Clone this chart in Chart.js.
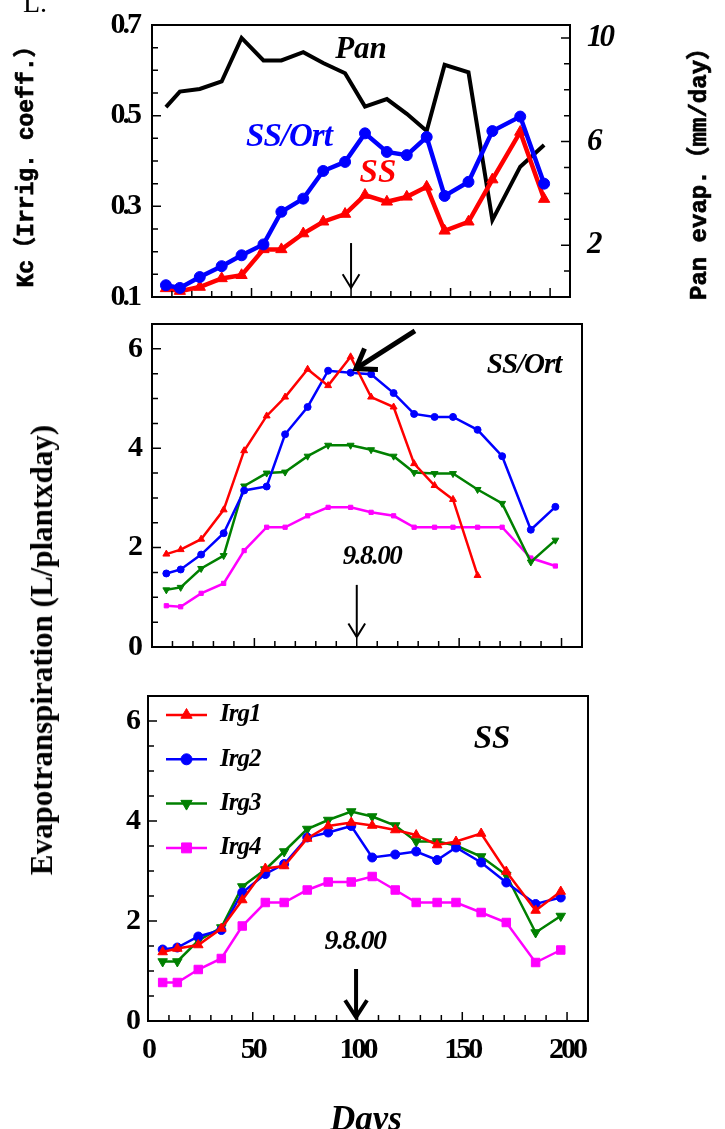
<!DOCTYPE html>
<html>
<head>
<meta charset="utf-8">
<script src="https://cdn.jsdelivr.net/npm/chart.js@4.4.1/dist/chart.umd.min.js"></script>
<style>
  html, body { margin: 0; padding: 0; background: #fff; width: 725px; height: 1129px; overflow: hidden; }
  #wrap { position: relative; width: 725px; height: 1129px; }
  canvas { position: absolute; left: 0; }
  .lbl { position: absolute; white-space: nowrap; color: #000; line-height: 1; }
  .rot { transform: translate(-50%, -50%) rotate(-90deg); }
  .mono { font-family: "Liberation Mono", "Noto Sans CJK SC", monospace; font-weight: bold; -webkit-text-stroke: 0.7px #000; }
  #figLetter { left: 23px; top: -13px; font: 28px "Liberation Serif", serif; }
  #kcTitle { left: 27px; top: 161px; font-size: 23px; }
  #panTitle { left: 700px; top: 168px; font-size: 24px; }
  #etTitle { left: 42px; top: 650px; font: bold 31px "Liberation Serif", serif; }
  #daysTitle { left: 366px; top: 1099px; transform: translateX(-50%); font: bold italic 35px "Liberation Serif", serif; }
</style>
</head>
<body>
<div id="wrap">
  <canvas id="kcChart" width="725" height="310" style="top:0"></canvas>
  <canvas id="ortChart" width="725" height="360" style="top:310px"></canvas>
  <canvas id="ssChart" width="725" height="459" style="top:670px"></canvas>
  <div class="lbl" id="figLetter">L.</div>
  <div class="lbl rot mono" id="kcTitle">Kc（Irrig. coeff.）</div>
  <div class="lbl rot mono" id="panTitle">Pan evap.（mm/day）</div>
  <div class="lbl rot" id="etTitle">Evapotranspiration (L/plantxday)</div>
  <div class="lbl" id="daysTitle">Days</div>
</div>
<script>
// --- Data ---
const days = [7, 14, 24, 35, 45, 56, 65, 76, 86, 97, 107, 118, 128, 138, 147, 159, 171, 185, 197];

// top panel: crop coefficient (left axis) and pan evaporation (right axis)
const kcOrt = [0.126, 0.120, 0.144, 0.168, 0.192, 0.216, 0.288, 0.317, 0.378, 0.398, 0.461, 0.420, 0.413, 0.453, 0.323, 0.354, 0.466, 0.498, 0.350];
const kcSS = [0.119, 0.113, 0.122, 0.141, 0.148, 0.205, 0.205, 0.240, 0.266, 0.283, 0.325, 0.310, 0.321, 0.343, 0.246, 0.266, 0.359, 0.464, 0.316];
const panEvap = [7.33, 7.93, 8.03, 8.32, 10.0, 9.13, 9.13, 9.45, 9.03, 8.64, 7.35, 7.64, 7.07, 6.41, 8.96, 8.67, 2.97, 5.03, 5.87];

// middle panel: SS/Ort
const ortIrg1 = [1.87, 1.96, 2.17, 2.76, 3.95, 4.65, 5.03, 5.59, 5.26, 5.84, 5.03, 4.83, 3.69, 3.25, 2.97, 1.44];
const ortIrg2 = [1.48, 1.56, 1.86, 2.29, 3.15, 3.23, 4.28, 4.83, 5.56, 5.52, 5.49, 5.11, 4.69, 4.63, 4.63, 4.37, 3.84, 2.36, 2.82];
const ortIrg3 = [1.15, 1.20, 1.58, 1.84, 3.24, 3.50, 3.52, 3.84, 4.06, 4.06, 3.97, 3.84, 3.51, 3.49, 3.49, 3.17, 2.89, 1.71, 2.15];
const ortIrg4 = [0.83, 0.81, 1.08, 1.28, 1.94, 2.41, 2.41, 2.64, 2.81, 2.81, 2.71, 2.64, 2.41, 2.41, 2.41, 2.41, 2.41, 1.79, 1.63];

// bottom panel: SS
const ssIrg1 = [1.38, 1.45, 1.52, 1.85, 2.42, 3.05, 3.10, 3.65, 3.90, 3.97, 3.91, 3.82, 3.72, 3.52, 3.59, 3.75, 2.99, 2.21, 2.59];
const ssIrg2 = [1.43, 1.47, 1.69, 1.82, 2.57, 2.94, 3.14, 3.67, 3.77, 3.90, 3.27, 3.33, 3.39, 3.22, 3.47, 3.17, 2.77, 2.34, 2.47];
const ssIrg3 = [1.19, 1.19, 1.61, 1.87, 2.69, 3.03, 3.39, 3.84, 4.02, 4.19, 4.09, 3.91, 3.59, 3.59, 3.51, 3.29, 2.92, 1.77, 2.10];
const ssIrg4 = [0.77, 0.77, 1.03, 1.25, 1.90, 2.37, 2.37, 2.62, 2.78, 2.78, 2.89, 2.62, 2.37, 2.37, 2.37, 2.17, 1.97, 1.17, 1.42];

// tick labels
const dayTicks = [0, 50, 100, 150, 200];
const kcTicks = [0.1, 0.3, 0.5, 0.7];
const panTicks = [2, 6, 10];
const etTicks = [0, 2, 4, 6];

// --- helpers ---
const pts = vals => vals.map((v, i) => ({ x: days[i], y: v }));
const near = (list, v) => list.some(t => Math.abs(t - v) < 1e-6);
const stepList = (min, max, step) => {
    const out = [];
    for (let i = 0; min + i * step <= max + 1e-9; i++) out.push({ value: +(min + i * step).toFixed(4) });
    return out;
};
const SERIF = 'Liberation Serif';
const tickFont = { family: SERIF, size: 30, weight: 'bold' };

// box + inward tick marks
const framePlugin = {
    id: 'frame',
    afterDatasetsDraw(chart, args, opts) {
        const { ctx, chartArea: a } = chart;
        ctx.save();
        ctx.strokeStyle = '#000';
        ctx.lineWidth = 1.5;
        ctx.beginPath();
        (opts.axes || []).forEach(ax => {
            const s = chart.scales[ax.id];
            s.ticks.forEach(t => {
                const major = near(ax.labels, t.value);
                const len = major ? 9 : 6;
                const p = s.getPixelForValue(t.value);
                if (ax.side === 'bottom') { ctx.moveTo(p, a.bottom); ctx.lineTo(p, a.bottom - len); }
                if (ax.side === 'left') { ctx.moveTo(a.left, p); ctx.lineTo(a.left + len, p); }
                if (ax.side === 'right') { ctx.moveTo(a.right, p); ctx.lineTo(a.right - len, p); }
            });
        });
        ctx.stroke();
        ctx.lineWidth = 2;
        ctx.strokeRect(a.left, a.top, a.width, a.height);
        ctx.restore();
    }
};

function drawArrow(ctx, x0, y0, x1, y1, head, spread, width) {
    const ang = Math.atan2(y1 - y0, x1 - x0);
    ctx.lineWidth = width;
    ctx.beginPath();
    ctx.moveTo(x0, y0);
    ctx.lineTo(x1, y1);
    ctx.stroke();
    ctx.beginPath();
    ctx.moveTo(x1 - head * Math.cos(ang - spread), y1 - head * Math.sin(ang - spread));
    ctx.lineTo(x1, y1);
    ctx.lineTo(x1 - head * Math.cos(ang + spread), y1 - head * Math.sin(ang + spread));
    ctx.stroke();
}

// text notes and arrows, placed in data units
const notesPlugin = {
    id: 'notes',
    afterDraw(chart, args, opts) {
        const { ctx } = chart;
        const xs = chart.scales.x, ys = chart.scales.y;
        ctx.save();
        (opts.texts || []).forEach(n => {
            ctx.font = n.font;
            ctx.letterSpacing = n.spacing || '0px';
            ctx.fillStyle = n.color || '#000';
            ctx.textAlign = 'center';
            ctx.textBaseline = 'middle';
            ctx.fillText(n.text, xs.getPixelForValue(n.x), ys.getPixelForValue(n.y));
        });
        ctx.strokeStyle = '#000';
        ctx.lineJoin = 'miter';
        (opts.arrows || []).forEach(r => {
            drawArrow(ctx, xs.getPixelForValue(r.x0), ys.getPixelForValue(r.y0),
                xs.getPixelForValue(r.x1), ys.getPixelForValue(r.y1), r.head, r.spread, r.width);
        });
        ctx.restore();
    }
};

// legend with line + marker, inside the plot
const lineLegend = {
    id: 'lineLegend',
    afterDraw(chart, args, o) {
        if (!o.show) return;
        const { ctx, chartArea: a } = chart;
        chart.data.datasets.forEach((ds, i) => {
            const y = a.top + o.top + i * o.rowGap;
            const x0 = a.left + o.left;
            ctx.save();
            ctx.strokeStyle = ds.borderColor;
            ctx.lineWidth = ds.borderWidth;
            ctx.beginPath();
            ctx.moveTo(x0, y);
            ctx.lineTo(x0 + o.lineLen, y);
            ctx.stroke();
            ctx.fillStyle = ds.backgroundColor;
            ctx.lineWidth = 1;
            Chart.helpers.drawPoint(ctx, {
                pointStyle: ds.pointStyle, rotation: ds.pointRotation || 0,
                radius: ds.pointRadius + 1, borderWidth: 1
            }, x0 + o.lineLen / 2, y);
            ctx.font = o.font;
            ctx.letterSpacing = '-1px';
            ctx.fillStyle = '#000';
            ctx.textAlign = 'left';
            ctx.textBaseline = 'middle';
            ctx.fillText(ds.label, x0 + o.lineLen + o.gap, y);
            ctx.restore();
        });
    }
};

const tightLabels = {
    id: 'tightLabels',
    beforeDraw(chart) { chart.ctx.letterSpacing = '-3px'; }
};

function dayAxis(showLabels, height) {
    return {
        type: 'linear', min: 0, max: 210,
        grid: { display: false, drawTicks: false },
        border: { display: false },
        ticks: {
            display: showLabels, autoSkip: false, maxRotation: 0, padding: 11,
            font: tickFont, color: '#000',
            callback: v => near(dayTicks, v) ? String(v) : ''
        },
        afterBuildTicks: s => { s.ticks = stepList(0, 210, 10); },
        afterFit: s => { s.height = height; s.paddingLeft = 0; s.paddingRight = 0; }
    };
}

function valueAxis(min, max, step, labels, width, position, digits, font, pad) {
    return {
        type: 'linear', position: position, min: min, max: max,
        grid: { display: false, drawTicks: false },
        border: { display: false },
        ticks: {
            autoSkip: false, padding: pad, font: font, color: '#000',
            callback: v => near(labels, v) ? v.toFixed(digits) : ''
        },
        afterBuildTicks: s => { s.ticks = stepList(min, max, step); },
        afterFit: s => { s.width = width; s.paddingTop = 0; s.paddingBottom = 0; }
    };
}

const base = {
    responsive: false,
    animation: false,
    events: [],
    plugins: { legend: { display: false }, tooltip: { enabled: false } }
};

function series(label, vals, color, style, radius, width, extra) {
    return Object.assign({
        label: label, data: pts(vals),
        borderColor: color, backgroundColor: color,
        pointBackgroundColor: color, pointBorderColor: color,
        borderWidth: width, pointStyle: style, pointRadius: radius, pointBorderWidth: 1,
        tension: 0
    }, extra || {});
}

// --- Top panel: Kc and pan evaporation ---
new Chart(document.getElementById('kcChart'), {
    type: 'line',
    data: {
        datasets: [
            series('SS/Ort', kcOrt, '#0000ff', 'circle', 5.5, 4.5, { yAxisID: 'y' }),
            series('SS', kcSS, '#ff0000', 'triangle', 6.5, 4.5, { yAxisID: 'y' }),
            series('Pan', panEvap, '#000000', false, 0, 4, { yAxisID: 'y2' })
        ]
    },
    options: Object.assign({}, base, {
        layout: { padding: { top: 25, left: 0, right: 0, bottom: 0 } },
        scales: {
            x: dayAxis(false, 13),
            y: valueAxis(0.1, 0.7, 0.05, kcTicks, 152, 'left', 1, tickFont, 13),
            y2: valueAxis(0, 10.5, 1, panTicks, 155, 'right', 0,
                { family: SERIF, size: 31, weight: 'bold', style: 'italic' }, 17)
        },
        plugins: Object.assign({}, base.plugins, {
            frame: { axes: [
                { id: 'x', side: 'bottom', labels: dayTicks },
                { id: 'y', side: 'left', labels: kcTicks },
                { id: 'y2', side: 'right', labels: panTicks }
            ] },
            notes: {
                texts: [
                    { text: 'Pan', x: 105, y: 0.645, font: `bold italic 31px "${SERIF}"` },
                    { text: 'SS/Ort', x: 68.8, y: 0.453, font: `bold italic 33px "${SERIF}"`, color: '#0000ff', spacing: '-1px' },
                    { text: 'SS', x: 113.5, y: 0.3735, font: `bold italic 33px "${SERIF}"`, color: '#ff0000' }
                ],
                arrows: [{ x0: 100, y0: 0.219, x1: 100, y1: 0.12, head: 16, spread: 0.55, width: 2 }]
            }
        })
    }),
    plugins: [tightLabels, framePlugin, notesPlugin]
});

// --- Middle panel: SS/Ort evapotranspiration ---
new Chart(document.getElementById('ortChart'), {
    type: 'line',
    data: {
        datasets: [
            series('Irg1', ortIrg1, '#ff0000', 'triangle', 4, 2.5),
            series('Irg2', ortIrg2, '#0000ff', 'circle', 3.5, 2.5),
            series('Irg3', ortIrg3, '#008000', 'triangle', 4, 2.5, { pointRotation: 180 }),
            series('Irg4', ortIrg4, '#ff00ff', 'rect', 3, 2.5)
        ]
    },
    options: Object.assign({}, base, {
        layout: { padding: { top: 14, left: 0, right: 143, bottom: 0 } },
        scales: {
            x: dayAxis(false, 23),
            y: valueAxis(0, 6.5, 0.5, etTicks, 152, 'left', 0, tickFont, 12)
        },
        plugins: Object.assign({}, base.plugins, {
            frame: { axes: [
                { id: 'x', side: 'bottom', labels: dayTicks },
                { id: 'y', side: 'left', labels: etTicks }
            ] },
            notes: {
                texts: [
                    { text: 'SS/Ort', x: 181.7, y: 5.655, font: `bold italic 29px "${SERIF}"`, spacing: '-1px' },
                    { text: '9.8.00', x: 107.4, y: 1.81, font: `bold italic 27px "${SERIF}"`, spacing: '-1.5px' }
                ],
                arrows: [
                    { x0: 100, y0: 1.25, x1: 100, y1: 0.2, head: 16, spread: 0.55, width: 2 },
                    { x0: 128.4, y0: 6.36, x1: 99.6, y1: 5.6, head: 22, spread: 0.6, width: 5 }
                ]
            }
        })
    }),
    plugins: [tightLabels, framePlugin, notesPlugin]
});

// --- Bottom panel: SS evapotranspiration ---
new Chart(document.getElementById('ssChart'), {
    type: 'line',
    data: {
        datasets: [
            series('Irg1', ssIrg1, '#ff0000', 'triangle', 5.5, 2.5),
            series('Irg2', ssIrg2, '#0000ff', 'circle', 4.5, 2.5),
            series('Irg3', ssIrg3, '#008000', 'triangle', 5.5, 2.5, { pointRotation: 180 }),
            series('Irg4', ssIrg4, '#ff00ff', 'rect', 6, 2.5)
        ]
    },
    options: Object.assign({}, base, {
        layout: { padding: { top: 26, left: 0, right: 137, bottom: 0 } },
        scales: {
            x: dayAxis(true, 108),
            y: valueAxis(0, 6.5, 0.5, etTicks, 148, 'left', 0, tickFont, 10)
        },
        plugins: Object.assign({}, base.plugins, {
            frame: { axes: [
                { id: 'x', side: 'bottom', labels: dayTicks },
                { id: 'y', side: 'left', labels: etTicks }
            ] },
            lineLegend: { show: true, left: 18, top: 19, rowGap: 44.3, lineLen: 41, gap: 13,
                font: `bold italic 25px "${SERIF}"` },
            notes: {
                texts: [
                    { text: 'SS', x: 164.2, y: 5.64, font: `bold italic 33px "${SERIF}"` },
                    { text: '9.8.00', x: 98.8, y: 1.58, font: `bold italic 28px "${SERIF}"`, spacing: '-1.5px' }
                ],
                arrows: [{ x0: 99.3, y0: 1.04, x1: 99.3, y1: 0.08, head: 20, spread: 0.58, width: 4 }]
            }
        })
    }),
    plugins: [tightLabels, framePlugin, notesPlugin, lineLegend]
});
</script>
</body>
</html>
